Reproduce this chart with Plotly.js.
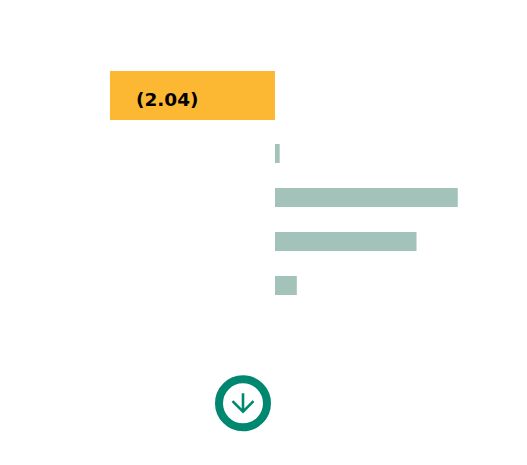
<!DOCTYPE html>
<html>
<head>
<meta charset="utf-8">
<script src="https://cdn.plot.ly/plotly-3.0.1.min.js"></script>
<style>html,body{margin:0;padding:0;background:#fff;}#chart{width:527px;height:465px;}</style>
</head>
<body>
<div id="chart"></div>
<script>
// Data
const totalCategory = ["Total"];
const totalValue = [-2.04];
const categories = ["A", "B", "C", "D"];
const values = [0.058, 2.26, 1.75, 0.27];

const ORANGE = "#FDB833";
const GREEN = "#A3C2B9";
const TEAL = "#008770";

const fmt = v => v < 0 ? "(" + Math.abs(v).toFixed(2) + ")" : v.toFixed(2);

const traces = [
  {
    type: "bar", orientation: "h",
    x: totalValue, y: totalCategory,
    xaxis: "x", yaxis: "y2",
    marker: {color: ORANGE},
    width: 1,
    hoverinfo: "skip"
  },
  {
    type: "bar", orientation: "h",
    x: values, y: categories,
    xaxis: "x", yaxis: "y",
    marker: {color: GREEN},
    width: 0.432,
    hoverinfo: "skip"
  }
];

const W = 527, H = 465;
const cx = 243 / W, cy = 1 - 403.3 / H;

const layout = {
  width: W, height: H,
  margin: {l: 0, r: 0, t: 0, b: 0},
  paper_bgcolor: "#ffffff",
  plot_bgcolor: "#ffffff",
  showlegend: false,
  xaxis: {range: [-3.400, 3.116], showgrid: false, zeroline: false, showticklabels: false, showline: false, fixedrange: true},
  yaxis: {domain: [0.3387, 0.7172], autorange: "reversed", showgrid: false, zeroline: false, showticklabels: false, showline: false, fixedrange: true},
  yaxis2: {domain: [0.742, 0.8473], range: [-0.5, 0.5], showgrid: false, zeroline: false, showticklabels: false, showline: false, fixedrange: true},
  annotations: [
    {
      x: totalValue[0], y: totalCategory[0], xref: "x", yref: "y2",
      text: fmt(totalValue[0]),
      showarrow: false, xanchor: "left", yanchor: "middle", xshift: 24, yshift: -4,
      font: {family: "DejaVu Sans", size: 18.5, color: "#000000", weight: "bold"}
    }
  ],
  shapes: [
    {
      type: "circle", xref: "paper", yref: "paper",
      xsizemode: "pixel", ysizemode: "pixel",
      xanchor: cx, yanchor: cy,
      x0: -24, x1: 24, y0: -24, y1: 24,
      line: {color: TEAL, width: 8},
      fillcolor: "rgba(0,0,0,0)"
    },
    {
      type: "path", xref: "paper", yref: "paper",
      xsizemode: "pixel", ysizemode: "pixel",
      xanchor: cx, yanchor: cy,
      path: "M0,10 L0,-8.4 M-10.5,2.2 L0,-8.4 L10.5,2.2",
      line: {color: TEAL, width: 2.6}
    }
  ]
};

Plotly.newPlot("chart", traces, layout, {displayModeBar: false, staticPlot: true});
</script>
</body>
</html>
